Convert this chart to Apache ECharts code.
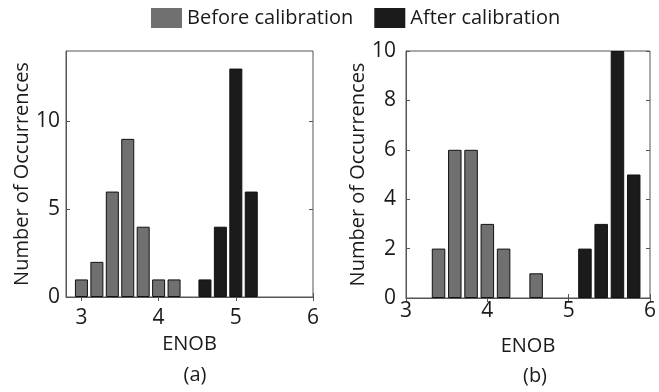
<!DOCTYPE html>
<html>
<head>
<meta charset="utf-8">
<script src="https://cdn.jsdelivr.net/npm/echarts@6/dist/echarts.min.js"></script>
<style>
  html, body { margin: 0; padding: 0; background: #fff; }
  #chart { width: 659px; height: 392px; }
</style>
</head>
<body>
<div id="chart"></div>
<script>
// ENOB bin centres and counts
const binsBeforeA = [3.0, 3.2, 3.4, 3.6, 3.8, 4.0, 4.2]
const countsBeforeA = [1, 2, 6, 9, 4, 1, 1]
const binsAfterA = [4.6, 4.8, 5.0, 5.2]
const countsAfterA = [1, 4, 13, 6]

const binsBeforeB = [3.4, 3.6, 3.8, 4.0, 4.2, 4.6]
const countsBeforeB = [2, 6, 6, 3, 2, 1]
const binsAfterB = [5.2, 5.4, 5.6, 5.8]
const countsAfterB = [2, 3, 10, 5]

const xTicks = [3, 4, 5, 6]
const yTicksA = [0, 5, 10]
const yTicksB = [0, 2, 4, 6, 8, 10]

const FONT = 'Open Sans'
const TEXT = '#1a1a1a'
const BOX = '#555'
const GRAY = '#707070'
const BLACK = '#1b1b1b'

const pairs = (xs, ys) => xs.map((x, i) => [x, ys[i]])

const chart = echarts.init(document.getElementById('chart'))

const bottomX = (grid, min, margin, gap) => ({
  type: 'value', gridIndex: grid, min: min, max: 6, position: 'bottom',
  splitLine: { show: false },
  axisLine: { show: true, onZero: false, lineStyle: { color: BOX } },
  axisTick: { inside: true, length: 4, customValues: xTicks, lineStyle: { color: BOX } },
  axisLabel: { customValues: xTicks, margin: margin, color: TEXT, fontFamily: FONT, fontSize: 21 },
  name: 'ENOB', nameLocation: 'middle', nameGap: gap,
  nameTextStyle: { color: TEXT, fontFamily: FONT, fontSize: 20 }
})
const topX = (grid, min) => ({
  type: 'value', gridIndex: grid, min: min, max: 6, position: 'top',
  splitLine: { show: false },
  axisLine: { show: false },
  axisTick: { inside: true, length: 4, customValues: xTicks, lineStyle: { color: BOX } },
  axisLabel: { show: false }
})
const leftY = (grid, max, ticks, margin, gap) => ({
  type: 'value', gridIndex: grid, min: 0, max: max, position: 'left',
  splitLine: { show: false },
  axisLine: { show: true, onZero: false, lineStyle: { color: BOX } },
  axisTick: { inside: true, length: 4, customValues: ticks, lineStyle: { color: BOX } },
  axisLabel: { customValues: ticks, margin: margin, color: TEXT, fontFamily: FONT, fontSize: 21 },
  name: 'Number of Occurrences', nameLocation: 'middle', nameGap: gap,
  nameTextStyle: { color: TEXT, fontFamily: FONT, fontSize: 20 }
})
const rightY = (grid, max, ticks) => ({
  type: 'value', gridIndex: grid, min: 0, max: max, position: 'right',
  splitLine: { show: false },
  axisLine: { show: false },
  axisTick: { inside: true, length: 4, customValues: ticks, lineStyle: { color: BOX } },
  axisLabel: { show: false }
})

const barSeries = (name, data, color, xi, yi, width) => ({
  name: name, type: 'bar', data: data, xAxisIndex: xi, yAxisIndex: yi,
  barWidth: width, barGap: '-100%',
  itemStyle: { color: color, borderColor: '#111', borderWidth: 1 }
})

const option = {
  animation: false,
  backgroundColor: '#fff',
  legend: {
    left: 146, top: 3,
    itemWidth: 31, itemHeight: 20, itemGap: 21,
    icon: 'rect',
    itemStyle: { borderWidth: 0 },
    textStyle: { color: TEXT, fontFamily: FONT, fontSize: 20 },
    data: ['Before calibration', 'After calibration']
  },
  title: [
    { text: '(a)', left: 190, top: 360, textAlign: 'center',
      textStyle: { color: TEXT, fontFamily: FONT, fontSize: 20, fontWeight: 'normal' } },
    { text: '(b)', left: 530, top: 361, textAlign: 'center',
      textStyle: { color: TEXT, fontFamily: FONT, fontSize: 20, fontWeight: 'normal' } }
  ],
  grid: [
    { left: 66, top: 51, width: 247, height: 246, show: true, borderColor: BOX, borderWidth: 1, backgroundColor: 'transparent' },
    { left: 406, top: 51, width: 247, height: 247, show: true, borderColor: BOX, borderWidth: 1, backgroundColor: 'transparent' }
  ],
  xAxis: [
    bottomX(0, 2.8, 11, 37),
    topX(0, 2.8),
    bottomX(1, 3, 3, 38),
    topX(1, 3)
  ],
  yAxis: [
    leftY(0, 14, yTicksA, 6, 34),
    rightY(0, 14, yTicksA),
    leftY(1, 10, yTicksB, 10, 30),
    rightY(1, 10, yTicksB)
  ],
  series: [
    barSeries('Before calibration', pairs(binsBeforeA, countsBeforeA), GRAY, 0, 0, 13),
    barSeries('After calibration', pairs(binsAfterA, countsAfterA), BLACK, 0, 0, 13),
    barSeries('Before calibration', pairs(binsBeforeB, countsBeforeB), GRAY, 2, 2, 13.5),
    barSeries('After calibration', pairs(binsAfterB, countsAfterB), BLACK, 2, 2, 13.5)
  ]
}

chart.setOption(option)
</script>
</body>
</html>
